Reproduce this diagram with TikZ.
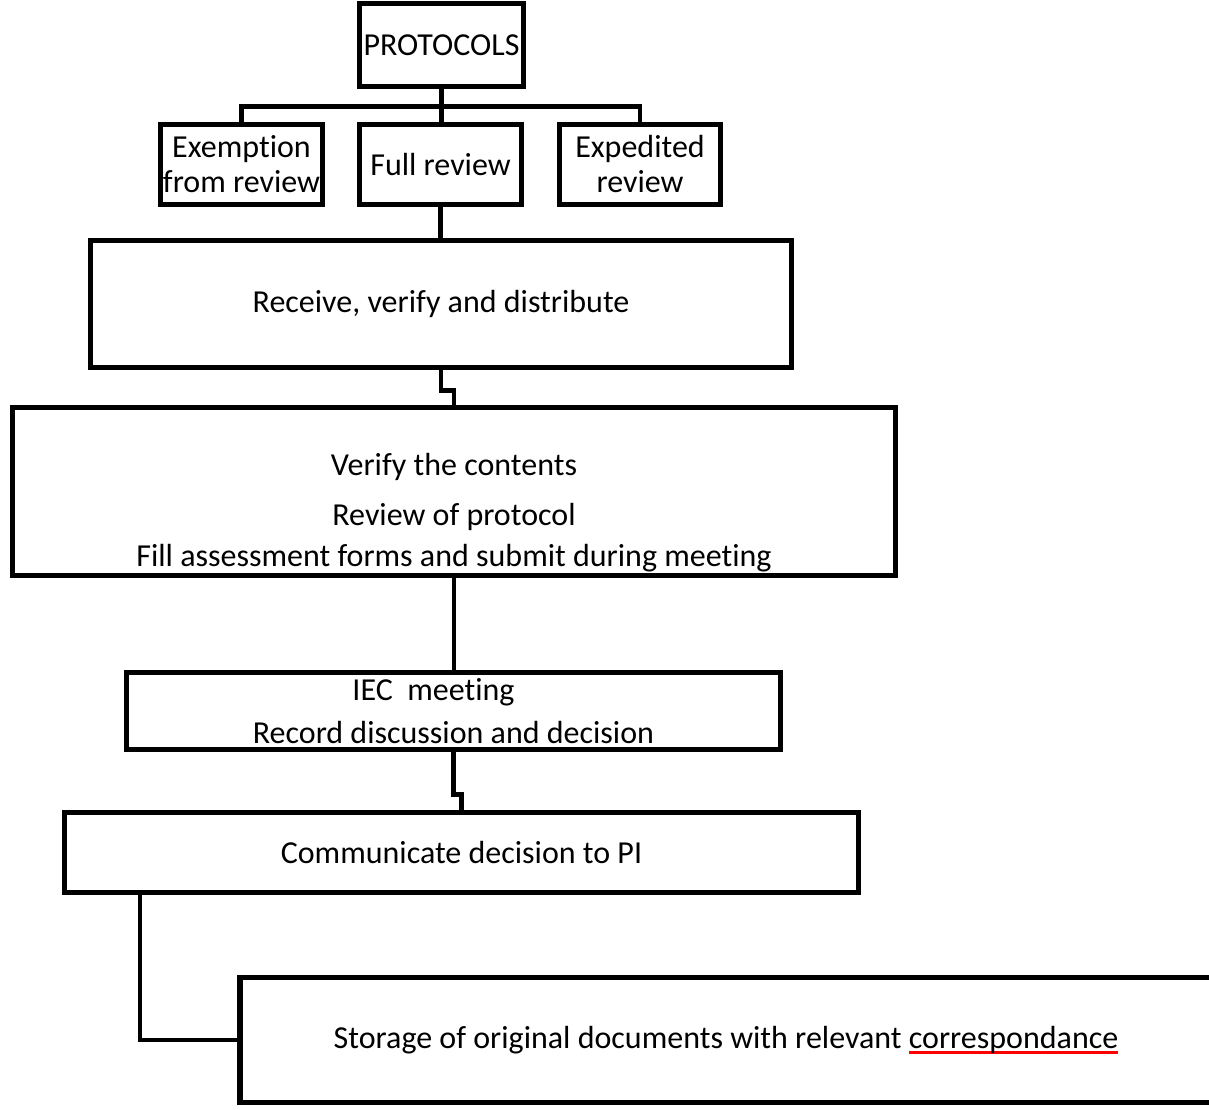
\documentclass[tikz,border=0pt]{standalone}
\usepackage{fontspec}
\setmainfont{Carlito}[Ligatures={NoCommon}]
\newcommand\redul[1]{\setbox0\hbox{#1}\rlap{\color{red}\rule[-5.5pt]{\wd0}{3pt}}\box0}
\begin{document}
\begin{tikzpicture}[x=1pt,y=-1pt,
  box/.style={draw=black,line width=5.5pt,inner sep=0pt,align=center,
    font=\fontsize{32}{35}\selectfont},
  txt/.style={inner sep=0pt,font=\fontsize{32}{35}\selectfont},
  conn/.style={draw=black,line width=4.5pt}]
\useasboundingbox (0,0) rectangle (1209,1110);
\clip (0,0) rectangle (1209,1110);
\fill[white] (0,0) rectangle (1209,1110);
% nodes
\node[box,minimum width=164pt,minimum height=83pt] (proto) at (441.5,45) {PROTOCOLS};
\node[box,minimum width=162pt,minimum height=80pt] (exempt) at (241.5,164.5) {Exemption\\from review};
\node[box,minimum width=162pt,minimum height=80pt] (full) at (440.5,164.5) {Full review};
\node[box,minimum width=161pt,minimum height=80pt] (exped) at (640,164.5) {Expedited\\review};
\node[box,minimum width=701pt,minimum height=127pt] (receive) at (441,304) {Receive, verify and distribute};
\node[box,minimum width=883pt,minimum height=168pt] (verify) at (454,491.5) {};
\node[txt] (v1) at (454,467) {Verify the contents};
\node[txt] (v2) at (454,517) {Review of protocol};
\node[txt] (v3) at (454,558) {Fill assessment forms and submit during meeting};
\node[box,minimum width=654pt,minimum height=77pt] (iec) at (453.5,711) {IEC\ \ meeting\hspace*{40pt}\\[8pt]Record discussion and decision};
\node[box,minimum width=980pt,minimum height=125pt] (store) at (730,1040) {Storage of original documents with relevant \redul{correspondance}\hspace*{8pt}};
\node[box,minimum width=794pt,minimum height=80pt] (comm) at (461.5,852.5) {Communicate decision to PI};
% connectors
\draw[conn] (proto.south) -- (proto.south |- full.north);
\draw[conn] (exempt.north) -- ++(0,-15) -| (exped.north);
\draw[conn] (full.south) -- (full.south |- receive.north);
\draw[conn] (receive.south) -- ++(0,20) -| (verify.north);
\draw[conn] (verify.south) -- (verify.south |- iec.north);
\draw[conn] (iec.south) -- ++(0,42) -| (comm.north);
\draw[conn] ([xshift=78pt]comm.south west) |- (store.west);
\end{tikzpicture}
\end{document}
